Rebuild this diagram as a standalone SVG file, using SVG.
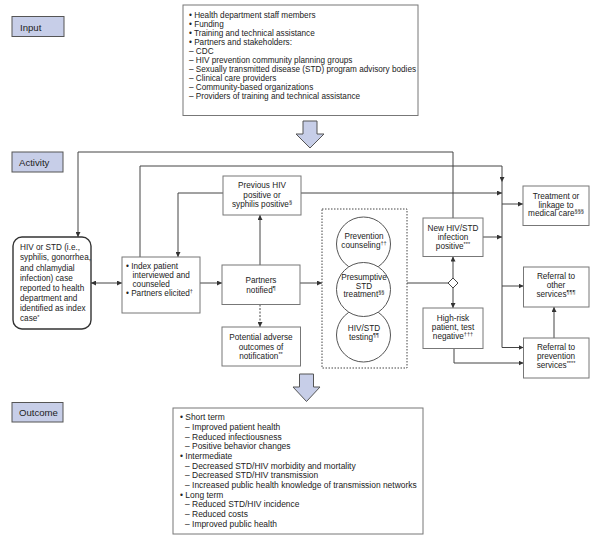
<svg xmlns="http://www.w3.org/2000/svg" width="599" height="544" viewBox="0 0 599 544">
<style>
.t{font-family:"Liberation Sans",Arial,Helvetica,sans-serif;font-size:8.2px;fill:#222}
.o{font-size:8.45px}
.c{text-anchor:middle}
.lbl{font-family:"Liberation Sans",Arial,Helvetica,sans-serif;font-size:9.6px;fill:#222}
.box{fill:#fff;stroke:#777;stroke-width:1}
.lab{fill:#c7cee8;stroke:#555;stroke-width:1}
.big{fill:#c7cee8;stroke:#555;stroke-width:1}
.cn{fill:none;stroke:#444;stroke-width:1}
.sup{font-size:5.6px}
</style>
<defs>
<marker id="ah" viewBox="0 0 6 6" refX="6" refY="3" markerWidth="5" markerHeight="5" orient="auto-start-reverse" markerUnits="userSpaceOnUse">
<path d="M0,0 L6,3 L0,6 z" fill="#333"/>
</marker>
</defs>
<rect width="599" height="544" fill="#fff"/>

<!-- Section labels -->
<g id="label-input"><rect class="lab" x="12" y="16.5" width="52" height="20"/><text class="lbl" x="20" y="30.5">Input</text></g>
<g id="label-activity"><rect class="lab" x="12" y="152" width="51" height="20"/><text class="lbl" x="19" y="165.5">Activity</text></g>
<g id="label-outcome"><rect class="lab" x="12" y="402.5" width="51" height="19.5"/><text class="lbl" x="19" y="415.5">Outcome</text></g>

<!-- Input box -->
<g id="input">
<rect class="box" x="183" y="5" width="235" height="110.5"/>
<text class="t" x="189" y="18">• Health department staff members</text>
<text class="t" x="189" y="27">• Funding</text>
<text class="t" x="189" y="36">• Training and technical assistance</text>
<text class="t" x="189" y="45">• Partners and stakeholders:</text>
<text class="t" x="189" y="54">– CDC</text>
<text class="t" x="189" y="63">– HIV prevention community planning groups</text>
<text class="t" x="189" y="72">– Sexually transmitted disease (STD) program advisory bodies</text>
<text class="t" x="189" y="81">– Clinical care providers</text>
<text class="t" x="189" y="90">– Community-based organizations</text>
<text class="t" x="189" y="99">– Providers of training and technical assistance</text>
</g>

<!-- Big arrows -->
<g id="arrow-in"><path class="big" d="M303,121 L317,121 L317,134 L324,134 L310,148 L296,134 L303,134 Z"/></g>
<g id="arrow-out"><path class="big" d="M299.5,374 L313.5,374 L313.5,387 L320,387 L306.5,401.5 L293,387 L299.5,387 Z"/></g>

<!-- Connectors -->
<g id="connectors">
<path class="cn" d="M453,218 V152 H78 V237" marker-end="url(#ah)"/>
<path class="cn" d="M140,257 V166 H502 V182" marker-end="url(#ah)"/>
<path class="cn" d="M502,182 V347.5"/>
<path class="cn" d="M223,193 H178 V257" marker-end="url(#ah)"/>
<path class="cn" d="M301,193 H502" marker-end="url(#ah)"/>
<path class="cn" d="M260,265 V215" marker-end="url(#ah)"/>
<path class="cn" d="M260,304.5 V327" stroke-dasharray="2,1.5" marker-end="url(#ah)"/>
<path class="cn" d="M91,283 H122" marker-start="url(#ah)" marker-end="url(#ah)"/>
<path class="cn" d="M200,283 H222" marker-end="url(#ah)"/>
<path class="cn" d="M300,283 H322" marker-end="url(#ah)"/>
<path class="cn" d="M407,283 H448"/>
<path class="cn" d="M453,278 V256.5" marker-end="url(#ah)"/>
<path class="cn" d="M453,288 V308" marker-end="url(#ah)"/>
<path class="cn" d="M483,237 H502" marker-end="url(#ah)"/>
<path class="cn" d="M502,204 H523" marker-end="url(#ah)"/>
<path class="cn" d="M502,286 H523.5" marker-end="url(#ah)"/>
<path class="cn" d="M502,347.5 H523.5" marker-end="url(#ah)"/>
<path class="cn" d="M454,348.5 V363 H523.5" marker-end="url(#ah)"/>
<path class="cn" d="M554,338 V307" marker-end="url(#ah)"/>
<path d="M453,278 L458,283 L453,288 L448,283 Z" fill="#fff" stroke="#444" stroke-width="1"/>
</g>

<!-- Activity nodes -->
<g id="index-case">
<rect x="13" y="237" width="78" height="92" rx="9" fill="#fff" stroke="#333" stroke-width="1.4"/>
<text class="t" x="20" y="250.3">HIV or STD (i.e.,</text>
<text class="t" x="20" y="260.4">syphilis, gonorrhea,</text>
<text class="t" x="20" y="270.5">and chlamydial</text>
<text class="t" x="20" y="280.6">infection) case</text>
<text class="t" x="20" y="290.7">reported to health</text>
<text class="t" x="20" y="300.8">department and</text>
<text class="t" x="20" y="310.9">identified as index</text>
<text class="t" x="20" y="321">case<tspan class="sup" dy="-2.5">*</tspan></text>
</g>

<g id="index-patient">
<rect class="box" x="122" y="257" width="78" height="56"/>
<text class="t" x="126" y="269">• Index patient</text>
<text class="t" x="132.5" y="278">interviewed and</text>
<text class="t" x="132.5" y="287">counseled</text>
<text class="t" x="126" y="296">• Partners elicited<tspan class="sup" dy="-3">†</tspan></text>
</g>

<g id="previous-positive">
<rect class="box" x="223" y="176" width="78" height="39"/>
<text class="t c" x="262" y="188">Previous HIV</text>
<text class="t c" x="262" y="197.5">positive or</text>
<text class="t c" x="262" y="207">syphilis positive<tspan class="sup" dy="-3">§</tspan></text>
</g>

<g id="partners-notified">
<rect class="box" x="222" y="265" width="78" height="39.5"/>
<text class="t c" x="261" y="283">Partners</text>
<text class="t c" x="261" y="293">notified<tspan class="sup" dy="-3">¶</tspan></text>
</g>

<g id="adverse-outcomes">
<rect class="box" x="222" y="327" width="78.5" height="39"/>
<text class="t c" x="261" y="340.3">Potential adverse</text>
<text class="t c" x="261" y="349.7">outcomes of</text>
<text class="t c" x="261" y="359">notification<tspan class="sup" dy="-3">**</tspan></text>
</g>

<g id="services">
<rect x="322" y="209" width="85" height="159" fill="none" stroke="#444" stroke-width="1" stroke-dasharray="1.5,1.5"/>
<circle cx="363.5" cy="244" r="27" fill="#fff" stroke="#555" stroke-width="1"/>
<circle cx="363.5" cy="335" r="27" fill="#fff" stroke="#555" stroke-width="1"/>
<circle cx="363.5" cy="289.5" r="27" fill="#fff" stroke="#555" stroke-width="1"/>
<text class="t c" x="364" y="238.7">Prevention</text>
<text class="t c" x="364" y="247.5">counseling<tspan class="sup" dy="-3">††</tspan></text>
<text class="t c" x="364" y="280.3">Presumptive</text>
<text class="t c" x="364" y="288.7">STD</text>
<text class="t c" x="364" y="297.3">treatment<tspan class="sup" dy="-3">§§</tspan></text>
<text class="t c" x="364" y="331.3">HIV/STD</text>
<text class="t c" x="364" y="340">testing<tspan class="sup" dy="-3">¶¶</tspan></text>
</g>

<g id="new-positive">
<rect class="box" x="423" y="218" width="60" height="38.5"/>
<text class="t c" x="453" y="231.3">New HIV/STD</text>
<text class="t c" x="453" y="239.9">infection</text>
<text class="t c" x="453" y="249">positive<tspan class="sup" dy="-3">***</tspan></text>
</g>

<g id="high-risk">
<rect class="box" x="423" y="308" width="60" height="40.5"/>
<text class="t c" x="453" y="321.3">High-risk</text>
<text class="t c" x="453" y="329.9">patient, test</text>
<text class="t c" x="453" y="338.7">negative<tspan class="sup" dy="-3">†††</tspan></text>
</g>

<g id="treatment">
<rect class="box" x="523" y="186" width="66" height="39.5"/>
<text class="t c" x="556" y="199">Treatment or</text>
<text class="t c" x="556" y="207.5">linkage to</text>
<text class="t c" x="556" y="216.3">medical care<tspan class="sup" dy="-3">§§§</tspan></text>
</g>

<g id="referral-other">
<rect class="box" x="523.5" y="267" width="65.5" height="40"/>
<text class="t c" x="556" y="278.7">Referral to</text>
<text class="t c" x="556" y="288">other</text>
<text class="t c" x="556" y="297.3">services<tspan class="sup" dy="-3">¶¶¶</tspan></text>
</g>

<g id="referral-prevention">
<rect class="box" x="523.5" y="338" width="65.5" height="40"/>
<text class="t c" x="556" y="349.7">Referral to</text>
<text class="t c" x="556" y="358.7">prevention</text>
<text class="t c" x="556" y="368">services<tspan class="sup" dy="-3">****</tspan></text>
</g>

<!-- Outcome box -->
<g id="outcome">
<rect class="box" x="173" y="408" width="250" height="126"/>
<text class="t o" x="180" y="420.3">• Short term</text>
<text class="t o" x="185" y="430">– Improved patient health</text>
<text class="t o" x="185" y="439.7">– Reduced infectiousness</text>
<text class="t o" x="185" y="449.3">– Positive behavior changes</text>
<text class="t o" x="180" y="459">• Intermediate</text>
<text class="t o" x="185" y="468.7">– Decreased STD/HIV morbidity and mortality</text>
<text class="t o" x="185" y="478.3">– Decreased STD/HIV transmission</text>
<text class="t o" x="185" y="488">– Increased public health knowledge of transmission networks</text>
<text class="t o" x="180" y="497.7">• Long term</text>
<text class="t o" x="185" y="507.3">– Reduced STD/HIV incidence</text>
<text class="t o" x="185" y="517">– Reduced costs</text>
<text class="t o" x="185" y="526.7">– Improved public health</text>
</g>
</svg>
